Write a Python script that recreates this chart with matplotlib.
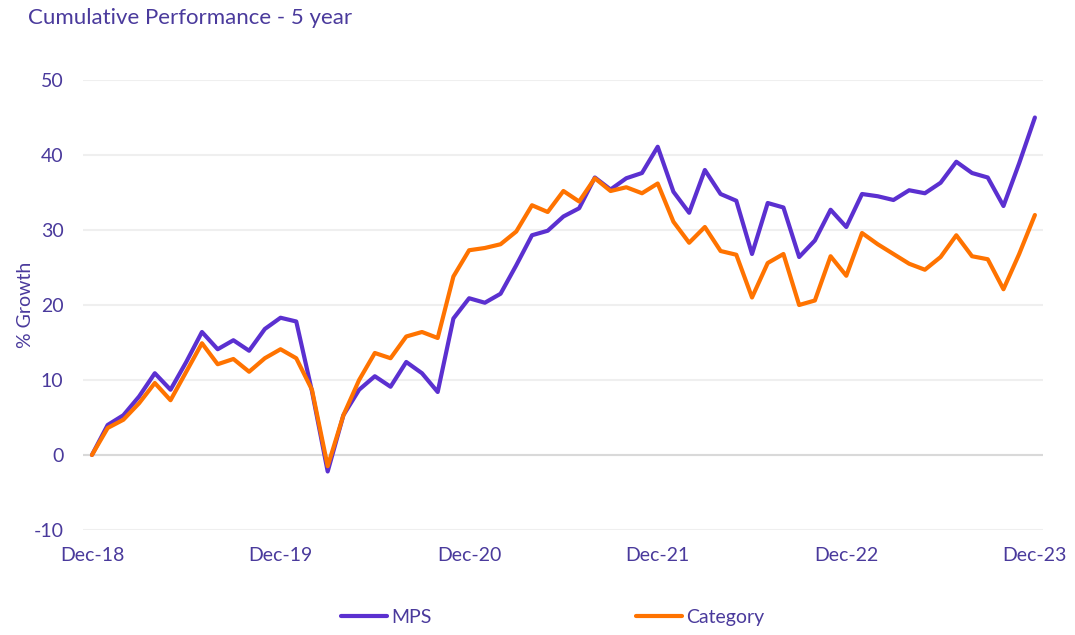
import numpy as np
import matplotlib
matplotlib.use("Agg")
import matplotlib.pyplot as plt

# Cumulative growth (%) month by month, Dec-18 .. Dec-23
mps = [0, 4.0, 5.3, 7.8, 10.9, 8.7, 12.4, 16.4, 14.1, 15.3, 13.9, 16.8, 18.3,
       17.8, 8.5, -2.2, 5.3, 8.7, 10.5, 9.1, 12.4, 10.9, 8.4, 18.2, 20.9,
       20.3, 21.5, 25.3, 29.3, 29.9, 31.8, 32.9, 37.0, 35.4, 36.9, 37.6, 41.1,
       35.1, 32.3, 38.0, 34.8, 33.9, 26.8, 33.6, 33.0, 26.4, 28.6, 32.7, 30.4,
       34.8, 34.5, 34.0, 35.3, 34.9, 36.3, 39.1, 37.6, 37.0, 33.2, 38.9, 45.0]
category = [0, 3.6, 4.7, 6.9, 9.6, 7.3, 11.1, 14.9, 12.1, 12.8, 11.1, 12.9, 14.1,
            12.9, 8.7, -1.5, 5.3, 10.0, 13.6, 12.9, 15.8, 16.4, 15.6, 23.8, 27.3,
            27.6, 28.1, 29.8, 33.3, 32.4, 35.2, 33.8, 36.9, 35.2, 35.7, 34.9, 36.2,
            31.1, 28.3, 30.4, 27.2, 26.7, 21.0, 25.6, 26.8, 20.0, 20.6, 26.5, 23.9,
            29.6, 28.1, 26.8, 25.5, 24.7, 26.4, 29.3, 26.5, 26.1, 22.1, 26.8, 32.0]
tick_labels = ["Dec-18", "Dec-19", "Dec-20", "Dec-21", "Dec-22", "Dec-23"]

text_col = "#4a3a9c"
purple = "#5b30d0"
orange = "#ff7300"

plt.rcParams["font.family"] = ["Lato", "DejaVu Sans"]
plt.rcParams["axes.unicode_minus"] = False

fig = plt.figure(figsize=(10.75, 6.35), dpi=100)
ax = fig.add_axes([0.0772, 0.1654, 0.8928, 0.7086])

months = np.arange(len(mps))
ax.plot(months, mps, color=purple, lw=3.0, label="MPS", solid_capstyle="round", zorder=3)
ax.plot(months, category, color=orange, lw=3.0, label="Category", solid_capstyle="round", zorder=4)

ax.set_xlim(-0.57, 60.5)
ax.set_ylim(-10, 50)
ax.set_yticks(range(-10, 51, 10))
ax.set_xticks(range(0, 61, 12))
ax.set_xticklabels(tick_labels)

ax.grid(axis="y", color="#efefef", lw=1.5)
ax.axhline(0, color="#d9d9d9", lw=1.5, zorder=1)
ax.set_axisbelow(True)
for s in ax.spines.values():
    s.set_visible(False)
ax.tick_params(axis="both", length=0, labelsize=14, colors=text_col)
ax.tick_params(axis="y", pad=14)
ax.tick_params(axis="x", pad=12)

ax.set_ylabel("% Growth", fontsize=14, color=text_col, labelpad=0)
fig.text(0.026, 0.971, "Cumulative Performance - 5 year", fontsize=16,
         color=text_col, va="center", ha="left")

fig.legend(loc="center", bbox_to_anchor=(0.514, 0.028), ncol=2, frameon=False,
           fontsize=14, handlelength=2.4, handletextpad=0.2, columnspacing=10.5,
           labelcolor=text_col)

fig.savefig("out.png", dpi=100)
